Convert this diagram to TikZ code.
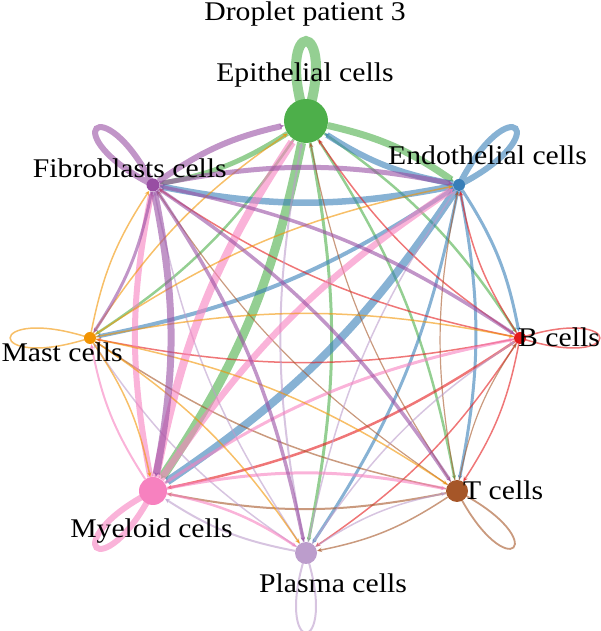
\documentclass[tikz,border=0pt]{standalone}
\usepackage{fontspec}
\setmainfont{Liberation Serif}[FakeStretch=1.1]
\usetikzlibrary{arrows.meta}
\pgfdeclarelayer{edges}
\pgfsetlayers{edges,main}
\definecolor{cE}{HTML}{4DAF4A}
\definecolor{cN}{HTML}{377EB8}
\definecolor{cB}{HTML}{E41A1C}
\definecolor{cT}{HTML}{A65628}
\definecolor{cP}{HTML}{BC9DCC}
\definecolor{cM}{HTML}{F781BF}
\definecolor{cS}{HTML}{F29403}
\definecolor{cF}{HTML}{984EA3}
\tikzset{
  cell/.style={circle, inner sep=0pt, minimum size=#1},
  lab/.style={inner sep=0pt, font=\fontsize{27}{30}\selectfont},
  lnk/.style={draw opacity=0.6, fill opacity=0.6, -{Stealth[length=5pt,width=4.5pt]}, bend left=11},
  selfloop/.style={draw opacity=0.6}
}
\newcommand{\lk}[4]{\draw[lnk, #3, line width=#4pt] (#1) to (#2);}
\newcommand{\selflp}[4]{\draw[selfloop, #2, line width=#4pt] (#1.center) .. controls +(#3-18:112) and +(#3+18:112) .. (#1.center);}
\begin{document}
\begin{tikzpicture}[x=1pt,y=1pt]
\useasboundingbox (0,0) rectangle (600,631);
% cells
\node[cell=44pt, fill=cE] (E) at (306,510) {};
\node[cell=12pt, fill=cN] (N) at (459,446) {};
\node[cell=12pt, fill=cB] (B) at (520,293) {};
\node[cell=22pt, fill=cT] (T) at (457,140) {};
\node[cell=22pt, fill=cP] (P) at (306,78) {};
\node[cell=28pt, fill=cM] (M) at (153,140) {};
\node[cell=12pt, fill=cS] (S) at (90,293) {};
\node[cell=13pt, fill=cF] (F) at (153,446) {};
\begin{pgfonlayer}{edges}
% self loops
\selflp{E}{cE}{90}{10}
\selflp{N}{cN}{45}{6}
\selflp{B}{cB}{0}{1.5}
\selflp{T}{cT}{-45}{1.8}
\selflp{P}{cP}{-90}{2}
\selflp{M}{cM}{-135}{6}
\selflp{S}{cS}{180}{1.5}
\selflp{F}{cF}{135}{6}
% Epithelial
\lk{E}{N}{cE}{7}
\lk{E}{B}{cE}{2.5}
\lk{E}{T}{cE}{2.5}
\lk{E}{P}{cE}{3}
\lk{E}{M}{cE}{9}
\lk{E}{S}{cE}{2.5}
\lk{E}{F}{cE}{5}
% Endothelial
\lk{N}{E}{cN}{6}
\lk{N}{B}{cN}{3}
\lk{N}{T}{cN}{3}
\lk{N}{P}{cN}{3}
\lk{N}{M}{cN}{8}
\lk{N}{S}{cN}{4}
\lk{N}{F}{cN}{6.5}
% B
\lk{B}{E}{cB}{1.5}
\lk{B}{N}{cB}{1.5}
\lk{B}{T}{cB}{1.5}
\lk{B}{P}{cB}{1.5}
\lk{B}{M}{cB}{2.5}
\lk{B}{S}{cB}{1.5}
\lk{B}{F}{cB}{1.5}
% T
\lk{T}{E}{cT}{1.2}
\lk{T}{N}{cT}{1.2}
\lk{T}{B}{cT}{1.2}
\lk{T}{P}{cT}{1.5}
\lk{T}{M}{cT}{2}
\lk{T}{S}{cT}{1.5}
\lk{T}{F}{cT}{1.2}
% Plasma
\lk{P}{E}{cP}{2}
\lk{P}{N}{cP}{1.5}
\lk{P}{B}{cP}{1.5}
\lk{P}{T}{cP}{1.5}
\lk{P}{M}{cP}{2}
\lk{P}{S}{cP}{1.5}
\lk{P}{F}{cP}{1.5}
% Myeloid
\lk{M}{E}{cM}{8}
\lk{M}{N}{cM}{6.5}
\lk{M}{B}{cM}{3}
\lk{M}{T}{cM}{3}
\lk{M}{P}{cM}{2.5}
\lk{M}{S}{cM}{2}
\lk{M}{F}{cM}{6}
% Mast
\lk{S}{E}{cS}{1.5}
\lk{S}{N}{cS}{1.5}
\lk{S}{B}{cS}{1.5}
\lk{S}{T}{cS}{1.5}
\lk{S}{P}{cS}{1.5}
\lk{S}{M}{cS}{1.5}
\lk{S}{F}{cS}{1.5}
% Fibroblasts
\lk{F}{E}{cF}{6}
\lk{F}{N}{cF}{5}
\lk{F}{B}{cF}{3.5}
\lk{F}{T}{cF}{3.5}
\lk{F}{P}{cF}{3.5}
\lk{F}{M}{cF}{7}
\lk{F}{S}{cF}{3}
\end{pgfonlayer}
% labels
\node[lab, anchor=base] (title) at (305,610) {Droplet patient 3};
\node[lab, anchor=base] (lE) at (305,549) {Epithelial cells};
\node[lab, anchor=base west] (lN) at (388,466) {Endothelial cells};
\node[lab, anchor=base east] (lF) at (227,453) {Fibroblasts cells};
\node[lab, anchor=base east] (lS) at (123,269) {Mast cells};
\node[lab, anchor=base west] (lB) at (518,284) {B cells};
\node[lab, anchor=base west] (lT) at (463,131) {T cells};
\node[lab, anchor=base] (lM) at (151.5,93) {Myeloid cells};
\node[lab, anchor=base] (lP) at (333,38) {Plasma cells};
\end{tikzpicture}
\end{document}
